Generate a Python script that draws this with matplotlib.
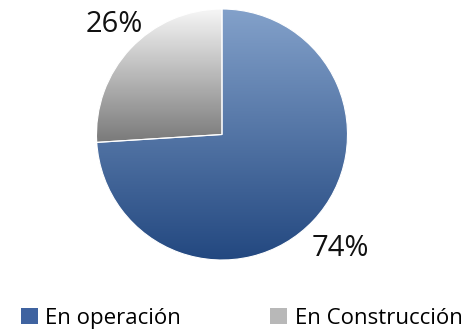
import numpy as np
import matplotlib
matplotlib.use("Agg")
import matplotlib.pyplot as plt
from matplotlib.colors import LinearSegmentedColormap
from matplotlib.patches import Patch

plt.rcParams['font.family'] = ['Open Sans', 'DejaVu Sans']

labels = ['En operación', 'En Construcción']
values = [74, 26]
pct_text = ['74%', '26%']

# gradient colours per slice (top -> bottom)
grad = [('#83a1ca', '#234880'), ('#f7f7f7', '#7a7a7a')]
legend_col = ['#3f63a0', '#b8b8b8']

W, H = 471, 335
fig = plt.figure(figsize=(W / 100, H / 100), dpi=100)
ax = fig.add_axes([0, 0, 1, 1])
ax.axis('off')

cx, cy, r = 222, H - 134.5, 125.5
wedges, _ = ax.pie(values, startangle=90, counterclock=False,
                   center=(cx, cy), radius=r,
                   wedgeprops=dict(edgecolor='white', linewidth=0.8))

# fill each wedge with a vertical gradient
for w, (c_top, c_bot) in zip(wedges, grad):
    w.set_facecolor('none')
    bb = w.get_path().get_extents(w.get_patch_transform())
    cmap = LinearSegmentedColormap.from_list('g', [c_bot, c_top])
    g = np.linspace(0, 1, 256).reshape(-1, 1)
    im = ax.imshow(g, cmap=cmap, origin='lower', aspect='auto',
                   extent=(bb.x0, bb.x1, bb.y0, bb.y1), zorder=0.5)
    im.set_clip_path(w)
ax.set_xlim(0, W)
ax.set_ylim(0, H)
ax.set_aspect('equal')

ax.text(340, H - 248, pct_text[0], fontsize=21, ha='center', va='center', color='#111111')
ax.text(114, H - 25, pct_text[1], fontsize=21, ha='center', va='center', color='#111111')

handles = [Patch(facecolor=c, edgecolor='none') for c in legend_col]
fig.legend(handles, labels, loc='center', bbox_to_anchor=(0.513, 0.05),
           ncol=2, frameon=False, fontsize=16, handlelength=0.75,
           handleheight=0.75, handletextpad=0.35, columnspacing=4.0,
           borderaxespad=0)

fig.savefig('out.png', dpi=100)
